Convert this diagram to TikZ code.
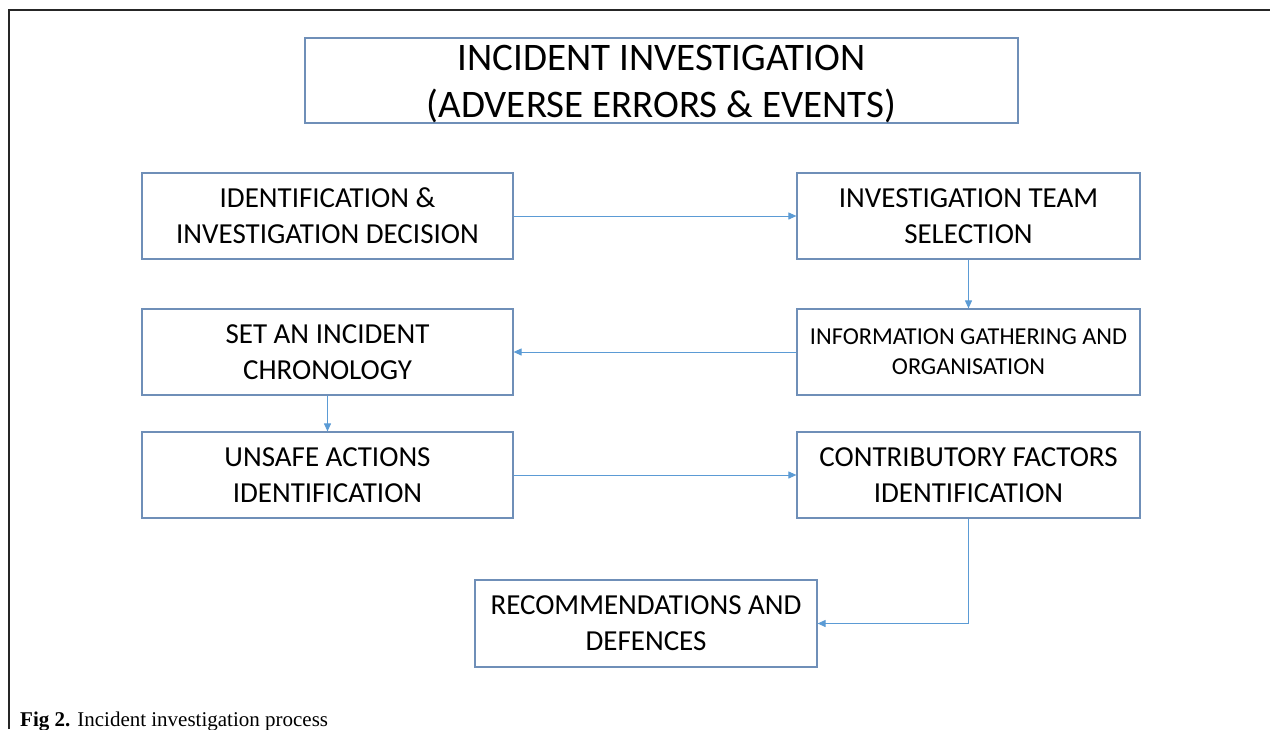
\documentclass[tikz,border=0pt]{standalone}
\usepackage{fontspec}
\setmainfont{Carlito}
\newfontfamily\capfont{Liberation Serif}
\usetikzlibrary{arrows.meta}
\definecolor{boxblue}{HTML}{6F8FB8}
\definecolor{arrblue}{HTML}{5B9BD5}
\definecolor{framegray}{HTML}{262626}
\tikzset{
  procbox/.style={draw=boxblue, line width=1.2pt, align=center, inner sep=0pt,
    font=\fontsize{29}{36}\selectfont},
  titlebox/.style={draw=boxblue, line width=1.2pt, align=center, inner sep=0pt,
    font=\fontsize{39}{47}\selectfont},
  flow/.style={draw=arrblue, line width=1pt, -{Triangle[length=8pt,width=7pt]}}
}
\begin{document}
\begin{tikzpicture}[x=1pt,y=-1pt]
\useasboundingbox (0,0) rectangle (1270,729);
\draw[framegray, line width=2.5pt] (9,729) -- (9,10) -- (1270,10);
\node[titlebox, minimum width=713pt, minimum height=85pt] (title) at (661.5,80.5) {};
\node[align=center, inner sep=0pt, font=\fontsize{39}{47}\selectfont] (titletext) at (661.5,84)
  {INCIDENT INVESTIGATION\\(ADVERSE ERRORS \& EVENTS)};
\node[procbox, minimum width=371pt, minimum height=86pt] (b1) at (327.5,216)
  {IDENTIFICATION \&\\INVESTIGATION DECISION};
\node[procbox, minimum width=343pt, minimum height=86pt] (b2) at (968.5,216)
  {INVESTIGATION TEAM\\SELECTION};
\node[procbox, minimum width=371pt, minimum height=86pt] (b3) at (327.5,352)
  {SET AN INCIDENT\\CHRONOLOGY};
\node[procbox, minimum width=343pt, minimum height=86pt,
  font=\fontsize{24.3}{30}\selectfont] (b4) at (968.5,352)
  {INFORMATION GATHERING AND\\ORGANISATION};
\node[procbox, minimum width=371pt, minimum height=86pt] (b5) at (327.5,475)
  {UNSAFE ACTIONS\\IDENTIFICATION};
\node[procbox, minimum width=343pt, minimum height=86pt] (b6) at (968.5,475)
  {CONTRIBUTORY FACTORS\\IDENTIFICATION};
\node[procbox, minimum width=342pt, minimum height=87pt] (b7) at (646,623.5)
  {RECOMMENDATIONS AND\\DEFENCES};
\draw[flow] (b1) -- (b2);
\draw[flow] (b2) -- (b4);
\draw[flow] (b4) -- (b3);
\draw[flow] (b3) -- (b5);
\draw[flow] (b5) -- (b6);
\draw[flow] (b6.south) |- (b7.east);
\node[anchor=base west, inner sep=0pt, font=\capfont\fontsize{21}{24}\selectfont] (cap) at (20,726)
  {\textbf{Fig 2.} Incident investigation process};
\end{tikzpicture}
\end{document}
